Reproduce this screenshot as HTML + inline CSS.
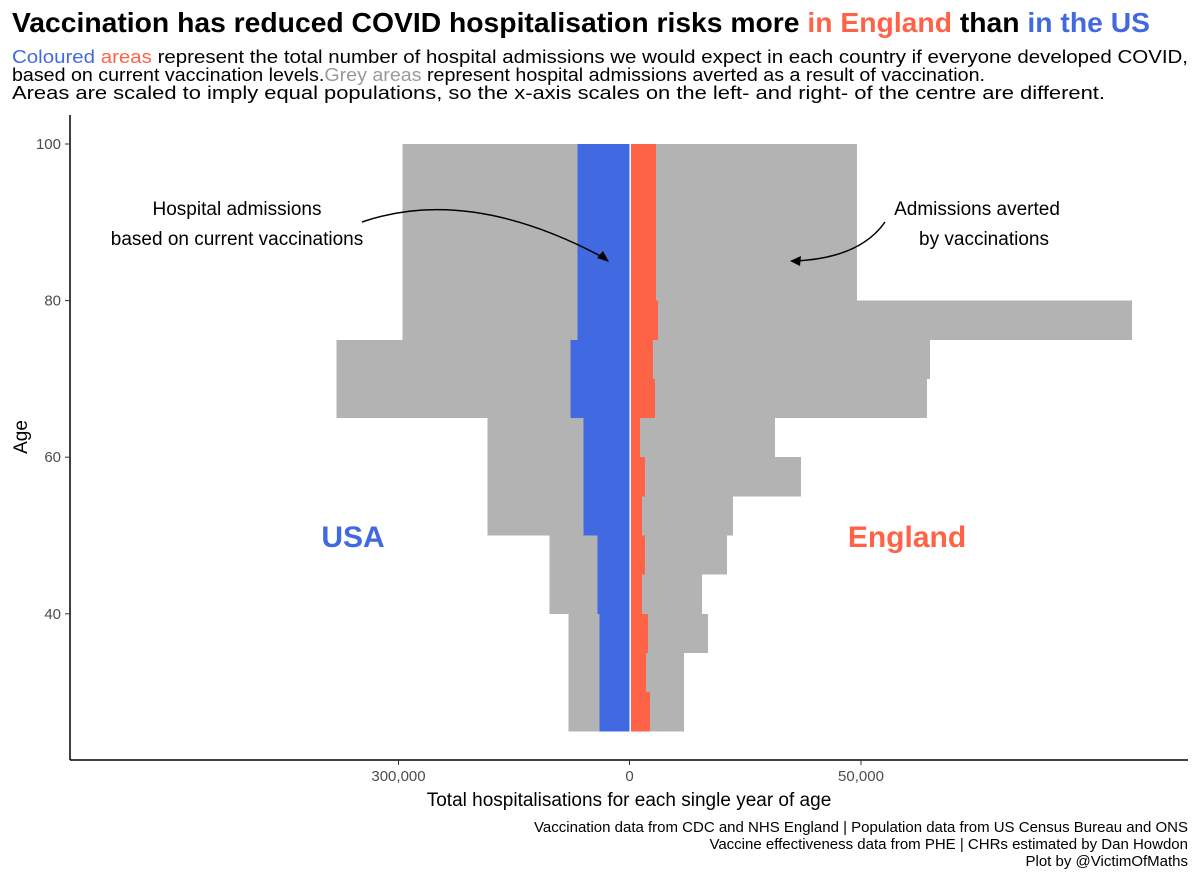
<!DOCTYPE html>
<html><head><meta charset="utf-8"><style>
body{margin:0;background:#fff}
svg{display:block;font-family:"Liberation Sans",sans-serif}
</style></head><body>
<svg id="chart" width="1200" height="880" viewBox="0 0 1200 880">
<text x="12" y="32" font-size="28" font-weight="bold" textLength="1138" lengthAdjust="spacingAndGlyphs">Vaccination has reduced COVID hospitalisation risks more <tspan fill="#FF6347">in England</tspan> than <tspan fill="#4169E1">in the US</tspan></text>
<text x="12" y="63" font-size="18" textLength="1176" lengthAdjust="spacingAndGlyphs"><tspan fill="#4169E1">Coloured</tspan> <tspan fill="#FF6347">areas</tspan> represent the total number of hospital admissions we would expect in each country if everyone developed COVID,</text>
<text x="12" y="81" font-size="18" textLength="973" lengthAdjust="spacingAndGlyphs">based on current vaccination levels.<tspan fill="#9a9a9a">Grey areas</tspan> represent hospital admissions averted as a result of vaccination.</text>
<text x="12" y="99" font-size="18" textLength="1093" lengthAdjust="spacingAndGlyphs">Areas are scaled to imply equal populations, so the x-axis scales on the left- and right- of the centre are different.</text>
<g id="marks" shape-rendering="crispEdges"></g>
<line x1="70" y1="115" x2="70" y2="760" stroke="#000" stroke-width="1.5"/>
<line x1="70" y1="760" x2="1188" y2="760" stroke="#000" stroke-width="1.5"/>
<g id="axes"></g>
<text x="27" y="437" font-size="19" text-anchor="middle" transform="rotate(-90 27 437)">Age</text>
<text x="629" y="806" font-size="19" text-anchor="middle">Total hospitalisations for each single year of age</text>
<text x="353" y="547" font-size="30" font-weight="bold" fill="#4169E1" text-anchor="middle">USA</text>
<text x="907" y="547" font-size="30" font-weight="bold" fill="#FF6347" text-anchor="middle">England</text>
<text x="237" y="215" font-size="19" text-anchor="middle">Hospital admissions</text>
<text x="237" y="245" font-size="19" text-anchor="middle">based on current vaccinations</text>
<path d="M362 222 Q470 185 606 259" fill="none" stroke="#000" stroke-width="1.5"/>
<polygon points="609,262 597,258 603,251" fill="#000"/>
<text x="977" y="215" font-size="19" text-anchor="middle">Admissions averted</text>
<text x="984" y="245" font-size="19" text-anchor="middle">by vaccinations</text>
<path d="M885 222 Q860 258 795 261" fill="none" stroke="#000" stroke-width="1.5"/>
<polygon points="790,261 801,256 800,266" fill="#000"/>
<g font-size="15" text-anchor="end">
<text x="1188" y="832">Vaccination data from CDC and NHS England | Population data from US Census Bureau and ONS</text>
<text x="1188" y="849">Vaccine effectiveness data from PHE | CHRs estimated by Dan Howdon</text>
<text x="1188" y="866">Plot by @VictimOfMaths</text>
</g>
</svg>
<script>
const usBandStart=[75,65,50,40,25];
const usBandEnd=[100,75,65,50,40];
const usTotal=[295000,380600,184500,104000,79200];
const usCurrent=[67500,76600,59800,41600,39000];
const engBandStart=[80,75,70,65,60,55,50,45,40,35,30,25];
const engBandEnd=[100,80,75,70,65,60,55,50,45,40,35,30];
const engTotal=[49100,108900,65000,64400,31300,37000,22200,20900,15400,16700,11500,11500];
const engCurrent=[5400,5900,4800,5200,2000,3000,2400,3000,2400,3700,3300,4100];
const yTicks=[40,60,80,100];
const ns="http://www.w3.org/2000/svg";
const cx=629.5;
const yAge=a=>144+(100-a)*7.83;
const xUS=v=>cx-v*231/300000;
const xEng=v=>cx+1.5+v*230/50000;
const marks=document.getElementById('marks');
const axes=document.getElementById('axes');
function rect(x1,x2,y1,y2,fill){const r=document.createElementNS(ns,'rect');r.setAttribute('x',Math.min(x1,x2));r.setAttribute('width',Math.abs(x2-x1));r.setAttribute('y',Math.min(y1,y2));r.setAttribute('height',Math.abs(y2-y1));r.setAttribute('fill',fill);marks.appendChild(r);return r;}
usTotal.forEach((v,i)=>{const r=rect(xUS(v),cx,yAge(usBandStart[i]),yAge(usBandEnd[i]),'#b3b3b3');

});
engTotal.forEach((v,i)=>{const r=rect(cx+1.5,xEng(v),yAge(engBandStart[i]),yAge(engBandEnd[i]),'#b3b3b3');

});
usCurrent.forEach((v,i)=>{const r=rect(xUS(v),cx,yAge(usBandStart[i]),yAge(usBandEnd[i]),'#4169E1');

});
engCurrent.forEach((v,i)=>{const r=rect(cx+1.5,xEng(v),yAge(engBandStart[i]),yAge(engBandEnd[i]),'#FF6347');

});
function txt(x,y,s,anchor){const t=document.createElementNS(ns,'text');t.setAttribute('x',x);t.setAttribute('y',y);t.setAttribute('font-size','15');t.setAttribute('fill','#4d4d4d');t.setAttribute('text-anchor',anchor);t.textContent=s;axes.appendChild(t);return t;}
function tick(x1,y1,x2,y2){const l=document.createElementNS(ns,'line');l.setAttribute('x1',x1);l.setAttribute('y1',y1);l.setAttribute('x2',x2);l.setAttribute('y2',y2);l.setAttribute('stroke','#333');axes.appendChild(l);return l;}
yTicks.forEach(a=>{const l=tick(65,yAge(a),70,yAge(a));


const t=txt(61,yAge(a)+5,String(a),'end');

});
const xTicks=[[xUS(300000),'300,000'],[cx,'0'],[xEng(50000),'50,000']];
xTicks.forEach(p=>{const l=tick(p[0],760,p[0],765);


const t=txt(p[0],781,p[1],'middle');

});
</script>
</body></html>
